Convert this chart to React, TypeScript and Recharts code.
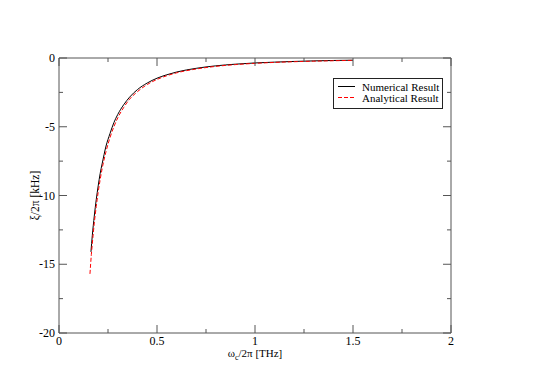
import { LineChart, Line, XAxis, YAxis, Legend, Label } from "recharts"

// numerical result
const numericalX = [0.163, 0.17, 0.18, 0.19, 0.2, 0.21, 0.22, 0.24, 0.26, 0.28, 0.3, 0.33, 0.36, 0.4, 0.45, 0.5, 0.55, 0.6, 0.7, 0.8, 0.9, 1.0, 1.1, 1.2, 1.3, 1.4, 1.5]
const numericalY = [-14.1, -12.9, -11.5, -10.3, -9.3, -8.4, -7.7, -6.4, -5.5, -4.7, -4.1, -3.4, -2.85, -2.3, -1.82, -1.47, -1.22, -1.02, -0.75, -0.57, -0.45, -0.36, -0.3, -0.25, -0.21, -0.18, -0.16]

// analytical result
const analyticalX = [0.158, 0.165, 0.17, 0.18, 0.19, 0.2, 0.21, 0.22, 0.24, 0.26, 0.28, 0.3, 0.33, 0.36, 0.4, 0.45, 0.5, 0.55, 0.6, 0.7, 0.8, 0.9, 1.0, 1.1, 1.2, 1.3, 1.4, 1.5]
const analyticalY = [-15.7, -14.3, -13.5, -12.0, -10.8, -9.75, -8.85, -8.05, -6.8, -5.8, -5.0, -4.35, -3.6, -3.0, -2.45, -1.93, -1.56, -1.29, -1.08, -0.8, -0.61, -0.48, -0.39, -0.32, -0.27, -0.23, -0.2, -0.17]

const xMajor = [0, 0.5, 1, 1.5, 2]
const xMinor = [0.25, 0.75, 1.25, 1.75]
const yMajor = [-20, -15, -10, -5, 0]
const yMinor = [-17.5, -12.5, -7.5, -2.5]

const numerical = numericalX.map((x, i) => ({ x, y: numericalY[i] }))
const analytical = analyticalX.map((x, i) => ({ x, y: analyticalY[i] }))
const xAll = [...xMajor, ...xMinor].sort((a, b) => a - b)
const yAll = [...yMajor, ...yMinor].sort((a, b) => a - b)

const FONT = "'Liberation Serif', 'DejaVu Serif', serif"
const AXIS = "#555"
const MAJOR = 8
const MINOR = 4

// inward ticks, drawn by hand so major/minor can differ
const makeTick = (side: string, majors: number[], showLabel: boolean) => (p: any) => {
  const { x, y, payload } = p
  const v = payload.value
  const major = majors.includes(v)
  const len = major ? MAJOR : MINOR
  let line
  if (side === "bottom") line = <line x1={x} x2={x} y1={y} y2={y - len} stroke={AXIS} />
  else if (side === "top") line = <line x1={x} x2={x} y1={y} y2={y + len} stroke={AXIS} />
  else if (side === "left") line = <line x1={x} x2={x + len} y1={y} y2={y} stroke={AXIS} />
  else line = <line x1={x} x2={x - len} y1={y} y2={y} stroke={AXIS} />
  let label = null
  if (showLabel && major) {
    if (side === "bottom")
      label = <text x={x} y={y + 11.5} textAnchor="middle" fontSize={12} fontFamily={FONT} fill="#000">{v}</text>
    else
      label = <text x={x - 4} y={y + 4} textAnchor="end" fontSize={12} fontFamily={FONT} fill="#000">{v}</text>
  }
  return <g>{line}{label}</g>
}

const LegendBox = () => (
  <svg width={111} height={32} style={{ display: "block" }}>
    <rect x={0.5} y={0.5} width={109} height={30} fill="#fff" stroke="#222" />
    <line x1={5} x2={22} y1={8.5} y2={8.5} stroke="#000" />
    <line x1={5} x2={22} y1={19.5} y2={19.5} stroke="#ff0000" strokeDasharray="4 2" />
    <text x={29} y={13} fontSize={11} fontFamily={FONT} fill="#000">Numerical Result</text>
    <text x={29} y={24} fontSize={11} fontFamily={FONT} fill="#000">Analytical Result</text>
  </svg>
)

export default function App() {
  return (
    <div style={{ position: "absolute", left: 0, top: 0 }}>
      <LineChart width={540} height={382} margin={{ top: 57, left: 58, right: 88, bottom: 48 }}>
        <XAxis xAxisId="b" dataKey="x" type="number" domain={[0, 2]} allowDataOverflow ticks={xAll} interval={0}
          height={1} tickSize={0} tickMargin={0} tickLine={false} stroke={AXIS} tick={makeTick("bottom", xMajor, true)}>
          <Label content={(p: any) => {
            const vb = p.viewBox
            const cx = vb.x + vb.width / 2
            return (
              <text x={cx} y={vb.y + 24} textAnchor="middle" fontSize={11} fontFamily={FONT} fill="#000">
                ω<tspan dy={3} fontSize={8}>c</tspan><tspan dy={-3}>/2π [THz]</tspan>
              </text>
            )
          }} />
        </XAxis>
        <XAxis xAxisId="t" orientation="top" dataKey="x" type="number" domain={[0, 2]} allowDataOverflow ticks={xAll} interval={0}
          height={1} tickSize={0} tickMargin={0} tickLine={false} stroke={AXIS} tick={makeTick("top", xMajor, false)} />
        <YAxis yAxisId="l" type="number" domain={[-20, 0]} allowDataOverflow ticks={yAll} interval={0}
          width={1} tickSize={0} tickMargin={0} tickLine={false} stroke={AXIS} tick={makeTick("left", yMajor, true)}>
          <Label content={(p: any) => {
            const vb = p.viewBox
            const cx = vb.x - 22
            const cy = vb.y + vb.height / 2
            return (
              <text x={cx} y={cy} transform={`rotate(-90 ${cx} ${cy})`} textAnchor="middle" dominantBaseline="middle"
                fontSize={11.5} fontFamily={FONT} fill="#000">ξ/2π [kHz]</text>
            )
          }} />
        </YAxis>
        <YAxis yAxisId="r" orientation="right" type="number" domain={[-20, 0]} allowDataOverflow ticks={yAll} interval={0}
          width={1} tickSize={0} tickMargin={0} tickLine={false} stroke={AXIS} tick={makeTick("right", yMajor, false)} />
        <Legend layout="vertical" verticalAlign="middle" align="center"
          wrapperStyle={{ left: 333, top: 78, width: 111, height: 32 }} content={() => <LegendBox />} />
        <Line xAxisId="b" yAxisId="l" data={numerical} dataKey="y" type="monotone" stroke="#000" strokeWidth={1}
          dot={false} isAnimationActive={false} />
        <Line xAxisId="b" yAxisId="l" data={analytical} dataKey="y" type="monotone" stroke="#ff0000" strokeWidth={1}
          strokeDasharray="4 2" dot={false} isAnimationActive={false} />
      </LineChart>
    </div>
  )
}
